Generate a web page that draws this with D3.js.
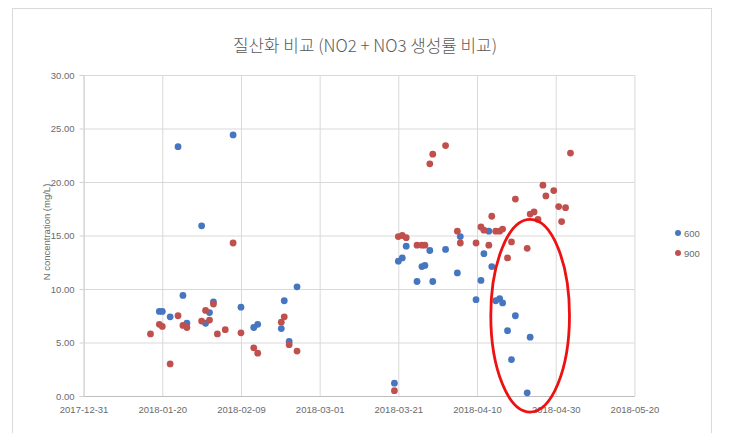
<!DOCTYPE html>
<html>
<head>
<meta charset="utf-8">
<script src="https://cdn.jsdelivr.net/npm/d3@7"></script>
<style>
  html, body { margin: 0; padding: 0; background: #ffffff; }
  svg { display: block; }
</style>
</head>
<body>
<svg id="chart" width="740" height="433"></svg>
<script>
// ---------- data ----------
const chartTitle = "질산화 비교 (NO2 + NO3 생성률 비교)";
const yAxisTitle = "N concentration (mg/L)";
const seriesNames = ["600", "900"];
const seriesColors = ["#4676c0", "#c0504d"];

// sample date/time (UTC, "%Y-%m-%d %H")
const sampleDates = [
  "2018-01-17 00", "2018-01-19 06", "2018-01-20 00", "2018-01-22 00", "2018-01-24 00",
  "2018-01-25 06", "2018-01-26 06", "2018-01-30 00", "2018-01-31 00", "2018-02-01 00",
  "2018-02-02 00", "2018-02-03 00", "2018-02-05 00", "2018-02-07 00", "2018-02-09 00",
  "2018-02-12 06", "2018-02-13 06", "2018-02-19 06", "2018-02-20 00", "2018-02-21 06",
  "2018-02-23 06",
  "2018-03-20 00", "2018-03-21 00", "2018-03-22 00", "2018-03-23 00", "2018-03-25 18",
  "2018-03-27 00", "2018-03-27 18", "2018-03-29 00", "2018-03-29 18", "2018-04-02 00",
  "2018-04-05 00", "2018-04-05 18", "2018-04-09 18", "2018-04-11 00", "2018-04-11 18",
  "2018-04-13 00", "2018-04-13 18", "2018-04-14 18", "2018-04-15 18", "2018-04-16 12",
  "2018-04-17 18", "2018-04-18 18", "2018-04-19 18", "2018-04-22 18", "2018-04-23 12",
  "2018-04-24 12", "2018-04-25 12", "2018-04-26 18", "2018-04-27 12", "2018-04-29 12",
  "2018-04-30 18", "2018-05-01 12", "2018-05-02 12", "2018-05-03 18"
];

const values600 = [
  null, 7.9, 7.9, 7.4, 23.3,
  9.4, 6.8, 15.9, 6.8, 7.8,
  8.8, null, null, 24.4, 8.3,
  6.4, 6.7, 6.3, 8.9, 5.1,
  10.2,
  1.2, 12.6, 12.9, 14.0, 10.7,
  12.1, 12.2, 13.6, 10.7, 13.7,
  11.5, 14.9, 9.0, 10.8, 13.3,
  15.4, 12.1, 8.9, 9.1, 8.7,
  6.1, 3.4, 7.5, 0.3, 5.5,
  null, null, null, null, null,
  null, null, null, null
];

const values900 = [
  5.8, 6.7, 6.5, 3.0, 7.5,
  6.6, 6.4, 7.0, 8.0, 7.1,
  8.6, 5.8, 6.2, 14.3, 5.9,
  4.5, 4.0, 6.9, 7.4, 4.8,
  4.2,
  0.5, 14.9, 15.0, 14.8, 14.1,
  14.1, 14.1, 21.7, 22.6, 23.4,
  15.4, 14.3, 14.3, 15.8, 15.5,
  14.1, 16.8, 15.4, 15.4, 15.6,
  12.9, 14.4, 18.4, 13.8, 17.0,
  17.2, 16.5, 19.7, 18.7, 19.2,
  17.7, 16.3, 17.6, 22.7
];

const xTickLabels = ["2017-12-31", "2018-01-20", "2018-02-09", "2018-03-01",
                     "2018-03-21", "2018-04-10", "2018-04-30", "2018-05-20"];
const yTickValues = [0, 5, 10, 15, 20, 25, 30];

// highlighted region (red ellipse annotation), in data units
const highlightCenterDate = "2018-04-23 12";
const highlightCenterValue = 7.5;
const highlightHalfWidthDays = 10;
const highlightHalfHeightValue = 9.0;

// ---------- drawing ----------
const parseTime = d3.utcParse("%Y-%m-%d %H");
const parseDay = d3.utcParse("%Y-%m-%d");

const svg = d3.select("#chart");
const plot = { left: 83.6, right: 634.4, top: 75, bottom: 396 };

// chart frame
svg.append("rect")
  .attr("x", 12.5).attr("y", 8.5)
  .attr("width", 699).attr("height", 440)
  .attr("fill", "#ffffff")
  .attr("stroke", "#d9d9d9").attr("stroke-width", 1);

const xTicks = xTickLabels.map(parseDay);
const x = d3.scaleUtc()
  .domain([xTicks[0], xTicks[xTicks.length - 1]])
  .range([plot.left, plot.right]);
const y = d3.scaleLinear()
  .domain([0, 30])
  .range([plot.bottom, plot.top]);

const fontFamily = "'Liberation Sans', 'DejaVu Sans', sans-serif";

// horizontal grid
const yGrid = svg.append("g")
  .attr("transform", `translate(${plot.left},0)`)
  .call(d3.axisLeft(y).tickValues(yTickValues).tickSize(-(plot.right - plot.left)).tickFormat(""));
yGrid.select(".domain").remove();
yGrid.selectAll("line").attr("stroke", "#d9d9d9").attr("stroke-width", 1);

// vertical grid
const xGrid = svg.append("g")
  .attr("transform", `translate(0,${plot.bottom})`)
  .call(d3.axisBottom(x).tickValues(xTicks).tickSize(-(plot.bottom - plot.top)).tickFormat(""));
xGrid.select(".domain").remove();
xGrid.selectAll("line").attr("stroke", "#d9d9d9").attr("stroke-width", 1);

// x axis
const xAxis = svg.append("g")
  .attr("transform", `translate(0,${plot.bottom})`)
  .call(d3.axisBottom(x).tickValues(xTicks).tickSize(0).tickPadding(10)
        .tickFormat(d3.utcFormat("%Y-%m-%d")));
xAxis.select(".domain").attr("stroke", "#bfbfbf");
xAxis.selectAll("text")
  .attr("fill", "#6a6a6a").style("font-size", "9.5px").style("font-family", fontFamily);

// y axis
const yAxis = svg.append("g")
  .attr("transform", `translate(${plot.left},0)`)
  .call(d3.axisLeft(y).tickValues(yTickValues).tickSize(4).tickPadding(5)
        .tickFormat(d3.format(".2f")));
yAxis.select(".domain").attr("stroke", "#d0d0d0");
yAxis.selectAll("line").attr("stroke", "#d0d0d0");
yAxis.selectAll("text")
  .attr("fill", "#6a6a6a").style("font-size", "9.5px").style("font-family", fontFamily);

// y axis title
svg.append("text")
  .attr("transform", `translate(50,232) rotate(-90)`)
  .attr("text-anchor", "middle")
  .attr("fill", "#6a6a6a")
  .style("font-size", "9.5px").style("font-family", fontFamily)
  .text(yAxisTitle);

// title
svg.append("text")
  .attr("x", 365).attr("y", 52)
  .attr("text-anchor", "middle")
  .attr("fill", "#595959")
  .style("font-size", "17px")
  .style("font-family", "'Noto Sans CJK KR', 'Noto Sans', sans-serif")
  .style("font-weight", "300")
  .attr("textLength", 264)
  .attr("lengthAdjust", "spacingAndGlyphs")
  .text(chartTitle);

// points
const seriesValues = [values600, values900];
seriesValues.forEach((vals, si) => {
  const pts = sampleDates.map((d, i) => ({ date: parseTime(d), v: vals[i] }))
    .filter(p => p.v !== null);
  svg.append("g").selectAll("circle")
    .data(pts).join("circle")
    .attr("cx", p => x(p.date))
    .attr("cy", p => y(p.v))
    .attr("r", 3.4)
    .attr("fill", seriesColors[si]);
});

// legend
seriesNames.forEach((name, i) => {
  const ly = 233 + i * 20;
  svg.append("circle").attr("cx", 678).attr("cy", ly).attr("r", 3)
    .attr("fill", seriesColors[i]);
  svg.append("text").attr("x", 684).attr("y", ly + 3.5)
    .attr("fill", "#6a6a6a")
    .style("font-size", "9.5px").style("font-family", fontFamily)
    .text(name);
});

// red ellipse annotation
const cDate = parseTime(highlightCenterDate);
const cx = x(cDate);
const rx = x(d3.utcDay.offset(cDate, highlightHalfWidthDays)) - cx;
const cy = y(highlightCenterValue);
const ry = y(0) - y(highlightHalfHeightValue);
svg.append("ellipse")
  .attr("cx", cx).attr("cy", cy).attr("rx", rx).attr("ry", ry)
  .attr("fill", "none").attr("stroke", "#ee1111").attr("stroke-width", 2.8);
</script>
</body>
</html>
